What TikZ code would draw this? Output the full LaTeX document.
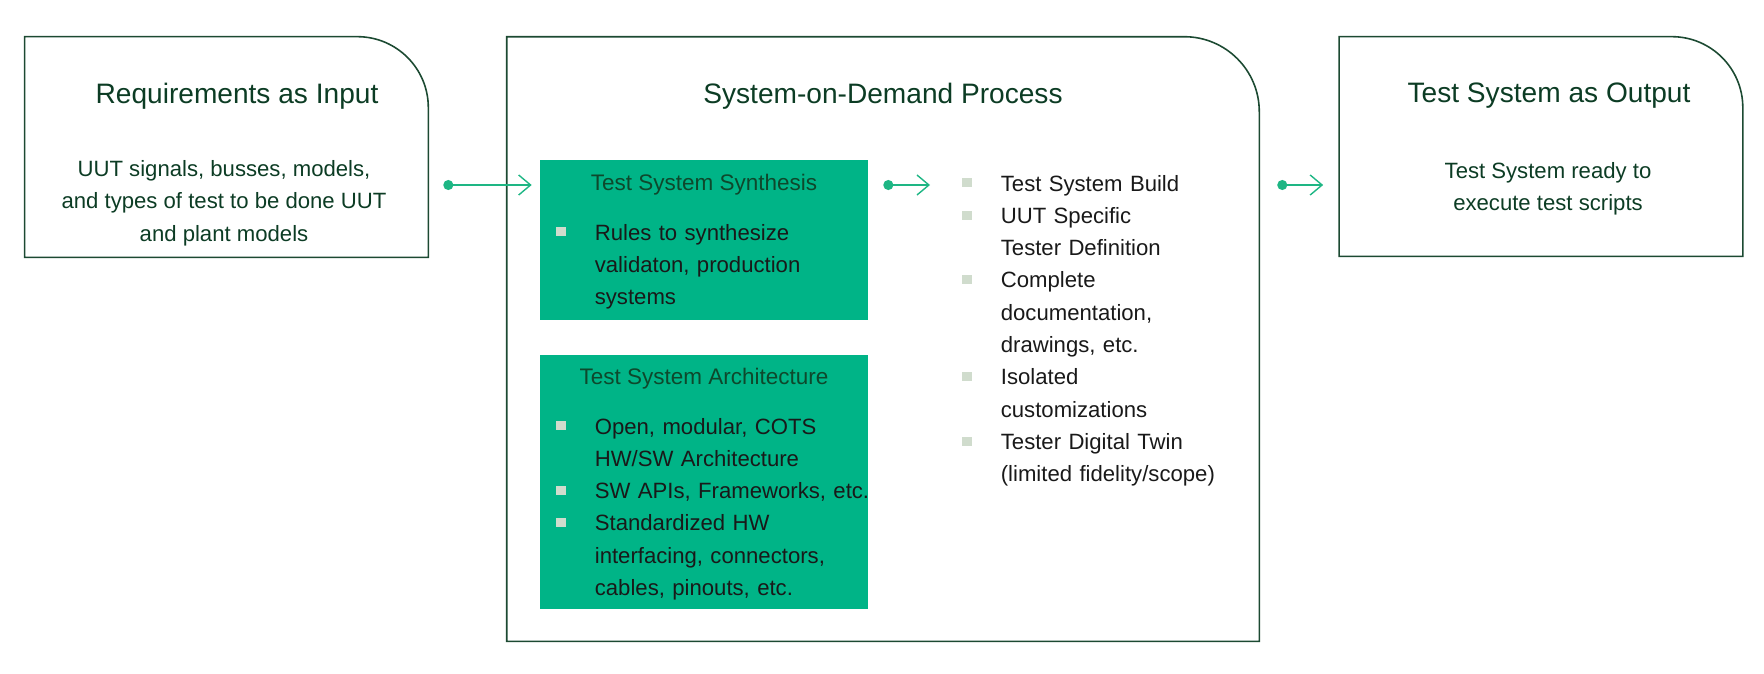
\documentclass[tikz,border=0pt]{standalone}
\usepackage{fontspec}
\setmainfont{Liberation Sans}
\usetikzlibrary{arrows.meta}

\definecolor{framegreen}{RGB}{28,74,50}
\definecolor{inkgreen}{RGB}{12,60,36}
\definecolor{fillgreen}{RGB}{0,180,135}
\definecolor{flowgreen}{RGB}{30,182,132}
\definecolor{boxink}{RGB}{14,72,44}
\definecolor{bulletgray}{RGB}{208,220,205}

\newlength\bulind
\setlength\bulind{0.77cm}
\newcommand\sqb{\textcolor{bulletgray}{\rule[2pt]{5.3pt}{5.3pt}}}
\newcommand\bitem[1]{\hangindent=\bulind\relax\hangafter=1\relax\noindent\makebox[\bulind][l]{\sqb}#1\par}
% outline with one round corner (top right)
\newcommand\shellpath[2]{\draw[frame] (#1.south west) -- (#1.north west) -- ([xshift=-#2]#1.north east) arc[start angle=90,end angle=0,radius=#2] -- (#1.south east) -- cycle;}

\begin{document}
\begin{tikzpicture}[x=0.02cm,y=-0.02cm]
   \tikzset{hold/.style={draw=none, inner sep=0pt},
     frame/.style={draw=framegreen, line width=0.9pt},
     ttl/.style={text=inkgreen, font=\fontsize{16}{19}\selectfont},
     body/.style={text=inkgreen, align=center, font=\fontsize{12.6}{18.4}\selectfont},
     gbox/.style={fill=fillgreen, draw=none, inner sep=0pt, minimum width=6.56cm},
     gttl/.style={text=boxink, font=\fontsize{12.8}{18.4}\selectfont},
     lst/.style={anchor=base west, inner sep=0pt, text width=8cm, align=left, text=black!90, font=\fontsize{12.6}{18.4}\selectfont},
     flow/.style={draw=flowgreen, line width=0.8pt, arrows={Circle[length=5.7pt]-Straight Barb[length=6.8pt,width=11.4pt]}}};

\useasboundingbox (0,0) rectangle (1764,673);

% the three outer boxes
\node[hold, minimum width=8.06cm, minimum height=4.4cm] (inbox) at (226.5,147) {};
\node[hold, minimum width=15.04cm, minimum height=12.08cm] (midbox) at (883,339) {};
\node[hold, minimum width=8.06cm, minimum height=4.38cm] (outbox) at (1541,146.5) {};
\shellpath{inbox}{1.42cm}
\shellpath{midbox}{1.5cm}
\shellpath{outbox}{1.42cm}

\node[ttl] (inttl) at (237,96) {Requirements as Input};
\node[body] (intxt) at (224,203) {UUT signals, busses, models,\\and types of test to be done UUT\\and plant models};

\node[ttl] (midttl) at (883,96) {System-on-Demand Process};

\node[ttl] (outttl) at (1549,96) {Test System as Output};
\node[body] (outtxt) at (1548,189) {Test System ready to\\execute test scripts};

% green blocks
\node[gbox, minimum height=3.2cm] (synth) at (704,240) {};
\node[gbox, minimum height=5.08cm] (arch) at (704,482) {};
\node[gttl] (synttl) at (704,185) {Test System Synthesis};
\node[gttl] (archttl) at (704,379) {Test System Architecture};

\node[lst] (synlist) at (556,240) {\bitem{Rules to synthesize\newline validaton, production\newline systems}};
\node[lst] (archlist) at (556,434) {\bitem{Open, modular, COTS\newline HW/SW Architecture}
  \bitem{SW APIs, Frameworks, etc.}
  \bitem{Standardized HW\newline interfacing, connectors,\newline cables, pinouts, etc.}};

\node[lst] (buildlist) at (962,191) {\bitem{Test System Build}
  \bitem{UUT Specific\newline Tester Definition}
  \bitem{Complete\newline documentation,\newline drawings, etc.}
  \bitem{Isolated\newline customizations}
  \bitem{Tester Digital Twin\newline (limited fidelity/scope)}};

% connectors
\draw[flow, shorten <=0.3cm, shorten >=0.16cm] (inbox.east |- synttl) -- (synth.west |- synttl);
\draw[flow, shorten <=0.3cm, shorten >=0.64cm] (synth.east |- synttl) -- (buildlist.west |- synttl);
\draw[flow, shorten <=0.36cm, shorten >=0.32cm] (midbox.east |- synttl) -- (outbox.west |- synttl);

\end{tikzpicture}
\end{document}
